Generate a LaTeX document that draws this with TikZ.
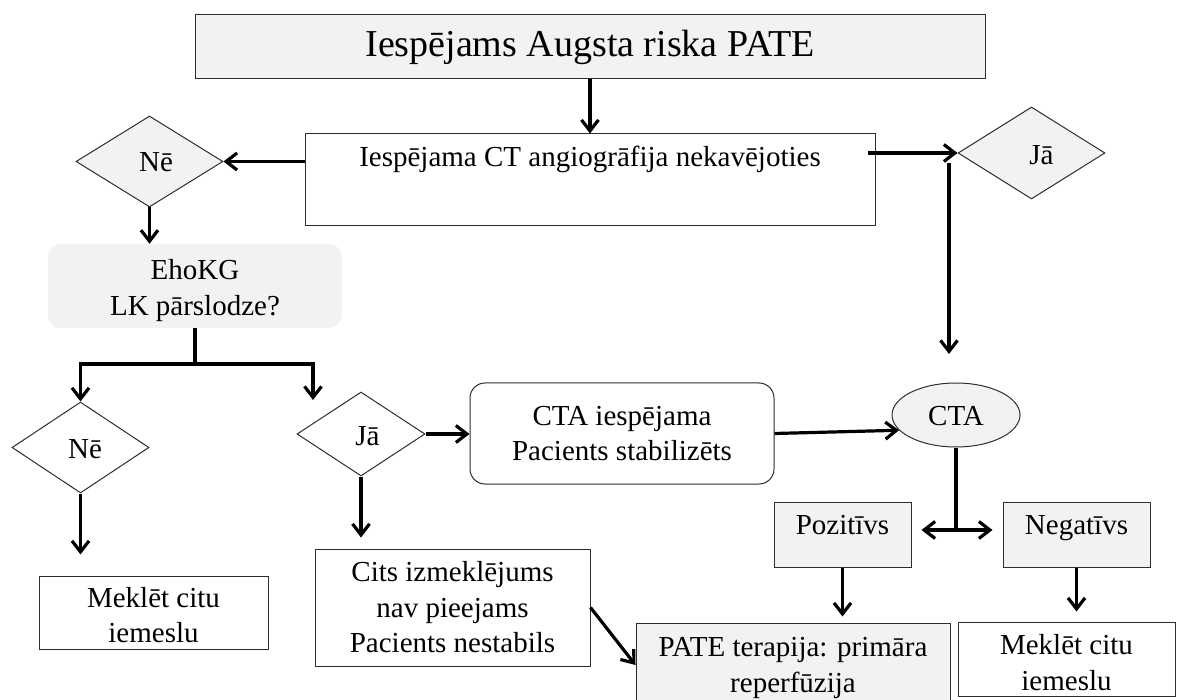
\documentclass[tikz,border=0pt]{standalone}
\usepackage{fontspec}
\setmainfont{Liberation Serif}
\usetikzlibrary{arrows.meta,shapes.geometric}
\definecolor{boxgrey}{RGB}{242,242,242}
\definecolor{edge}{RGB}{45,45,45}
\begin{document}
\begin{tikzpicture}[x=1pt,y=-1pt,
  every node/.style={font=\fontsize{29}{35.5}\selectfont, inner sep=0pt, align=center, text=black},
  box/.style={rectangle, draw=edge, line width=1pt, fill=white},
  greybox/.style={box, fill=boxgrey},
  roundbox/.style={box, rounded corners=15pt},
  choice/.style={diamond, draw=edge, line width=1pt, aspect=1.6, fill=white},
  greychoice/.style={choice, fill=boxgrey},
  capline/.style={text height=21pt, text depth=0pt},
  highline/.style={text height=20pt, text depth=20pt},
  nudge/.style={execute at begin node={\hspace*{#1}}},
  arr/.style={line width=3.2pt, -{Straight Barb[length=11pt,width=17pt]}},
  link/.style={line width=3.2pt}]

\useasboundingbox (0,0) rectangle (1178,700);
\clip (0,0) rectangle (1178,700);

% title and first question
\node[greybox, minimum width=790pt, minimum height=64pt, text height=25pt, text depth=5pt,
      font=\fontsize{38}{44}\selectfont] (top) at (590,47) {Iespējams Augsta riska PATE};
\node[box, minimum width=570pt, minimum height=92pt,
      text height=21pt, text depth=47pt] (ct) at (590,180) {Iespējama CT angiogrāfija nekavējoties};

% answers to the first question
\node[greychoice, capline, nudge=13pt, minimum width=147pt, minimum height=91pt] (ne1) at (149.5,161.5) {Nē};
\node[greychoice, capline, nudge=20pt, text height=24pt, minimum width=147pt, minimum height=92pt] (ja1) at (1031.5,153) {Jā};

% echocardiography branch
\node[rectangle, fill=boxgrey, rounded corners=13pt, minimum width=294pt, minimum height=84pt,
      text height=65pt] (eho) at (195,286) {EhoKG\\LK pārslodze?};
\node[choice, capline, nudge=9pt, minimum width=137pt, minimum height=91pt] (ne2) at (80.5,447.5) {Nē};
\node[choice, capline, nudge=13pt, text height=24pt, minimum width=128pt, minimum height=84pt] (ja2) at (361,434) {Jā};
\node[box, minimum width=229pt, minimum height=73pt, text height=61pt] (mek1) at (153.5,612.5) {Meklēt citu\\iemeslu};
\node[box, minimum width=275pt, minimum height=117pt] (cits) at (452.5,607.5) {Cits izmeklējums\\nav pieejams\\Pacients nestabils};
\node[roundbox, minimum width=304pt, minimum height=101pt] (stab) at (622,433.5) {CTA iespējama\\Pacients stabilizēts};

% CT angiography and its results
\node[ellipse, draw=edge, line width=1pt, fill=boxgrey, capline, minimum width=128pt, minimum height=64pt] (cta) at (956,415) {CTA};
\node[greybox, highline, minimum width=137pt, minimum height=65pt] (poz) at (842.5,534.5) {Pozitīvs};
\node[greybox, highline, minimum width=147pt, minimum height=65pt] (neg) at (1076.5,534.5) {Negatīvs};
\node[greybox, minimum width=314pt, minimum height=84pt, text height=61pt] (pate) at (793,665) {PATE terapija: primāra\\reperfūzija};
\node[box, minimum width=217pt, minimum height=74pt, text height=63pt] (mek2) at (1066.5,659) {Meklēt citu\\iemeslu};

% helper points for the connectors
\coordinate (ctr) at ([xshift=-8pt]ct.east);
\coordinate (vtop) at (949,163);
\coordinate (vbot) at (949,354);
\coordinate (split) at (195,364);
\coordinate (jatip) at (313,400);
\coordinate (fork) at (956,530);

% connectors
\draw[arr] (top.south) -- (ct.north);
\draw[arr] (ct.west |- ne1.east) -- (ne1.east);
\draw[arr] (ctr |- ja1.west) -- (ja1.west);
\draw[arr] (vtop) -- (vbot);
\draw[arr] (ne1.south) -- (ne1.south |- eho.north);
\draw[link] (eho.south) -- (split);
\draw[arr] (split) -| (ne2.north);
\draw[arr] (split) -| (jatip);
\draw[arr, shorten >=21pt] (ne2.south) -- (ne2.south |- mek1.north);
\draw[arr, shorten >=11pt] (ja2.south) -- (ja2.south |- cits.north);
\draw[arr] (ja2.east) -- (ja2.east -| stab.west);
\draw[arr] (cits.east) -- (pate.west);
\draw[arr] (stab.east) -- (cta.195);
\draw[link] (cta.south) -- (fork);
\draw[arr, shorten >=10pt] (fork) -- (poz.east |- fork);
\draw[arr, shorten >=10pt] (fork) -- (neg.west |- fork);
\draw[arr, shorten >=6pt] (poz.south) -- (poz.south |- pate.north);
\draw[arr, shorten >=10pt] (neg.south) -- (neg.south |- mek2.north);
\end{tikzpicture}
\end{document}
